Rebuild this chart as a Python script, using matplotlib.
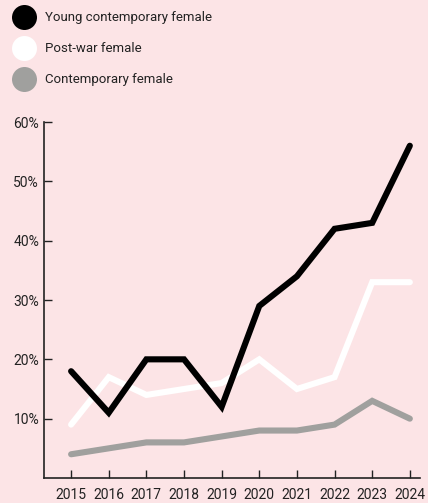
import matplotlib
matplotlib.use("Agg")
import matplotlib.pyplot as plt
from matplotlib.lines import Line2D
from matplotlib.ticker import FuncFormatter

years = [2015, 2016, 2017, 2018, 2019, 2020, 2021, 2022, 2023, 2024]
young_contemporary = [18, 11, 20, 20, 12, 29, 34, 42, 43, 56]
post_war = [9, 17, 14, 15, 16, 20, 15, 17, 33, 33]
contemporary = [4, 5, 6, 6, 7, 8, 8, 9, 13, 10]

series_names = ["Young contemporary female", "Post-war female", "Contemporary female"]
series_colors = ["#000000", "#ffffff", "#a0a09e"]

bg = "#fce4e6"
ink = "#222222"
plt.rcParams["font.family"] = ["Roboto", "DejaVu Sans"]

fig = plt.figure(figsize=(4.28, 5.03), dpi=100, facecolor=bg)
ax = fig.add_axes([44 / 428, 1 - 478 / 503, 376 / 428, 356 / 503])
ax.set_facecolor(bg)

for vals, col in zip([contemporary, post_war, young_contemporary], series_colors[::-1]):
    ax.plot(years, vals, color=col, lw=4.4, solid_capstyle="round",
            solid_joinstyle="miter", zorder=3)

ax.set_xlim(2014.28, 2024.27)
ax.set_ylim(0, 60)
ax.set_xticks(years)
ax.set_yticks([10, 20, 30, 40, 50, 60])
ax.yaxis.set_major_formatter(FuncFormatter(lambda v, p: f"{v:.0f}%"))
ax.tick_params(axis="both", direction="in", length=6, width=1, color=ink,
               labelcolor=ink, labelsize=10)
ax.tick_params(axis="x", pad=7)
ax.tick_params(axis="y", pad=3.5)
for s in ["top", "right"]:
    ax.spines[s].set_visible(False)
for s in ["left", "bottom"]:
    ax.spines[s].set_color(ink)
    ax.spines[s].set_linewidth(1.2)

# legend drawn by hand at the top left
for i, (name, col) in enumerate(zip(series_names, series_colors)):
    y = 1 - (17 + 31 * i) / 503
    fig.add_artist(Line2D([24 / 428], [y], transform=fig.transFigure, marker="o",
                          markersize=18, color=col, markeredgewidth=0, linestyle=""))
    fig.text(45 / 428, y, name, fontsize=9.5, color=ink, va="center", ha="left")

fig.savefig("out.png", dpi=100, facecolor=bg)
